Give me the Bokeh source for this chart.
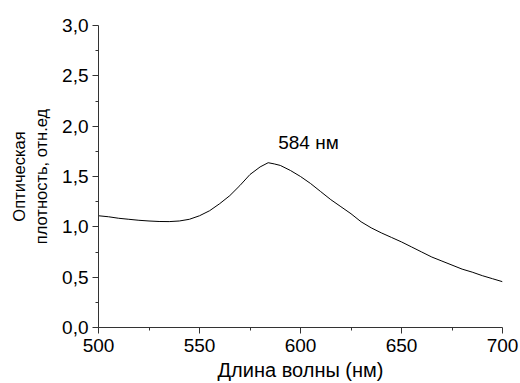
from bokeh.plotting import figure
from bokeh.models import FixedTicker, Range1d, Label
from bokeh.embed import file_html
from bokeh.resources import INLINE

wavelength = [500, 505, 510, 515, 520, 525, 530, 535, 540, 545, 550, 555, 560, 565, 570,
              575, 580, 584, 587, 590, 595, 600, 605, 610, 615, 620, 625, 630, 635, 640,
              645, 650, 655, 660, 665, 670, 675, 680, 685, 690, 695, 700]
absorbance = [1.11, 1.10, 1.085, 1.075, 1.065, 1.058, 1.053, 1.052, 1.058, 1.075, 1.11, 1.16,
              1.23, 1.31, 1.41, 1.52, 1.595, 1.637, 1.625, 1.61, 1.56, 1.50, 1.43, 1.35,
              1.27, 1.20, 1.13, 1.05, 0.99, 0.94, 0.895, 0.85, 0.80, 0.75, 0.70, 0.66,
              0.62, 0.58, 0.55, 0.515, 0.485, 0.455]
x_ticks = [500, 550, 600, 650, 700]
x_minor = [525, 575, 625, 675]
y_ticks = [0.0, 0.5, 1.0, 1.5, 2.0, 2.5, 3.0]
y_minor = [0.25, 0.75, 1.25, 1.75, 2.25, 2.75]
y_labels = ["0,0", "0,5", "1,0", "1,5", "2,0", "2,5", "3,0"]
peak_x = 584
peak_label = "584 нм"

FONT = "Liberation Sans"

p = figure(width=520, height=383, output_backend="svg", toolbar_location=None,
           x_range=Range1d(500, 700), y_range=Range1d(0, 3.0),
           min_border_left=98, min_border_right=18, min_border_top=25, min_border_bottom=55)
p.outline_line_color = None
p.grid.visible = False
p.background_fill_color = "white"
p.border_fill_color = "white"

p.line(wavelength, absorbance, line_color="black", line_width=1)

p.xaxis.ticker = FixedTicker(ticks=x_ticks, minor_ticks=x_minor)
p.yaxis.ticker = FixedTicker(ticks=y_ticks, minor_ticks=y_minor)
p.yaxis.major_label_overrides = {t: l for t, l in zip(y_ticks, y_labels)}

for ax in (p.xaxis[0], p.yaxis[0]):
    ax.axis_line_color = "#333333"
    ax.major_tick_line_color = "#333333"
    ax.minor_tick_line_color = "#333333"
    ax.major_tick_in = 0
    ax.major_tick_out = 6
    ax.minor_tick_in = 0
    ax.minor_tick_out = 3
    ax.major_label_text_font = FONT
    ax.major_label_text_font_size = "19px"
    ax.major_label_text_color = "black"
    ax.axis_label_text_font = FONT
    ax.axis_label_text_font_style = "normal"
    ax.axis_label_text_color = "black"

p.xaxis.axis_label = "Длина волны (нм)"
p.yaxis.axis_label = "Оптическая\nплотность, отн.ед"
p.xaxis.axis_label_text_font_size = "20px"
p.yaxis.axis_label_text_font_size = "16.5px"
p.xaxis.major_label_standoff = 5
p.yaxis.major_label_standoff = 4
p.xaxis.axis_label_standoff = 4
p.yaxis.axis_label_standoff = 9

p.add_layout(Label(x=peak_x, y=1.84, text=peak_label, text_font=FONT, text_font_size="19px",
                   text_color="black", x_offset=10, text_align="left", text_baseline="alphabetic"))

open("out.html", "w").write(file_html(p, INLINE))
